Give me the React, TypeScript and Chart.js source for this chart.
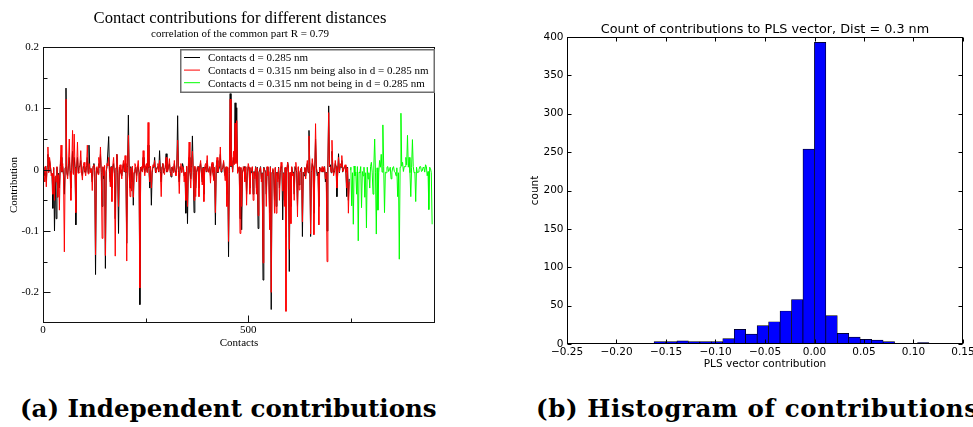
import React, { useEffect, useRef } from 'react';
import { Chart, registerables } from 'chart.js';

Chart.register(...registerables);

// ---------- Left panel: contact contributions ----------
const CONTACT_STEP = 2;
const SHARED_START = 0;
const GREEN_START = 748;
const CONTACT_MAX = 955;

const SERIES_LABELS = [
  'Contacts d = 0.285 nm',
  'Contacts d = 0.315 nm being also in d = 0.285 nm',
  'Contacts d = 0.315 nm not being in d = 0.285 nm',
];

const BLACK_285 = [
  0.0, 0.004, -0.01, -0.005, -0.02, 0.006, 0.025, -0.004, 0.015, 0.005, -0.005, -0.007, -0.063, 0.003, -0.1, -0.012, -0.08, 0.004, -0.045, -0.006,
  -0.03, 0.005, 0.02, -0.004, 0.005, -0.008, -0.04, 0.003, 0.133, -0.005, -0.01, 0.006, 0.02, -0.003, -0.03, 0.004, 0.03, -0.006, 0.02, 0.004,
  -0.09, 0.004, 0.02, -0.005, 0.005, 0.006, 0.015, -0.003, -0.01, 0.005, 0.005, -0.004, -0.005, 0.004, 0.02, -0.005, 0.04, 0.003, 0.0, -0.004,
  -0.02, 0.005, 0.01, -0.004, -0.171, 0.003, 0.0, -0.006, 0.01, 0.004, 0.025, -0.005, -0.06, 0.004, -0.015, 0.006, -0.161, -0.003, 0.005, 0.005,
  0.054, -0.004, -0.02, 0.005, -0.03, 0.004, 0.01, -0.006, -0.08, 0.003, 0.025, -0.005, -0.104, 0.004, 0.0, -0.005, -0.01, 0.003, 0.01, -0.004,
  0.01, -0.005, -0.12, 0.004, 0.089, -0.004, -0.03, 0.005, -0.02, 0.004, -0.058, -0.005, 0.0, 0.004, -0.01, 0.003, 0.005, -0.005, -0.22, 0.004,
  0.0, -0.003, 0.02, 0.004, -0.005, 0.005, 0.005, -0.004, 0.04, 0.003, -0.03, 0.005, -0.058, -0.004, 0.005, 0.004, 0.02, -0.005, 0.0, 0.004,
  0.005, -0.004, 0.031, -0.003, -0.02, 0.005, 0.01, -0.005, 0.0, 0.004, 0.026, -0.004, 0.0, 0.005, 0.01, -0.003, -0.012, 0.004, 0.0, -0.004,
  0.01, -0.003, -0.005, 0.004, 0.088, -0.004, -0.02, 0.005, 0.005, -0.004, 0.01, 0.004, -0.01, -0.005, -0.071, 0.005, -0.088, 0.003, 0.02, -0.004,
  -0.015, 0.004, 0.055, -0.005, -0.07, 0.004, -0.03, -0.004, 0.0, 0.005, -0.03, 0.004, 0.01, -0.005, -0.02, 0.004, -0.04, 0.003, 0.005, -0.004,
  0.015, -0.003, 0.0, 0.004, -0.01, 0.005, 0.01, -0.004, -0.015, 0.003, -0.09, 0.004, 0.015, -0.005, 0.0, 0.004, 0.025, -0.004, 0.0, 0.003,
  0.012, -0.005, -0.01, 0.004, -0.04, 0.003, -0.142, -0.006, 0.124, 0.005, 0.015, -0.004, 0.02, 0.01, 0.109, 0.012, 0.101, -0.005, 0.0, 0.004,
  -0.08, 0.003, -0.098, -0.004, 0.0, 0.005, -0.015, 0.004, -0.04, -0.005, 0.005, 0.003, -0.03, -0.004, -0.005, 0.004, -0.04, -0.003, -0.01, 0.005,
  -0.03, 0.004, -0.096, -0.004, 0.0, 0.005, -0.015, -0.005, -0.18, 0.004, 0.0, -0.003, -0.04, 0.004, -0.005, -0.004, -0.07, 0.005, -0.228, -0.004,
  0.0, -0.005, -0.05, 0.003, -0.06, -0.004, -0.015, 0.004, -0.03, -0.005, 0.005, 0.004, -0.082, -0.005, -0.05, 0.003, -0.11, -0.004, 0.012, 0.004,
  -0.166, -0.005, -0.06, 0.004, -0.005, -0.004, -0.04, 0.005, 0.005, -0.004, -0.06, 0.004, -0.025, -0.005, 0.0, 0.004, -0.109, -0.004, -0.01, 0.003,
  -0.01, 0.004, 0.01, -0.005, 0.064, 0.005, -0.109, -0.004, 0.01, 0.004, -0.071, -0.005, 0.05, 0.003, -0.01, -0.004, -0.06, 0.004, 0.0, -0.003,
  0.003, -0.004, 0.0, 0.005, -0.02, -0.004, -0.1, 0.004, 0.104, 0.005, 0.008, -0.005, 0.03, 0.004, -0.005, -0.004, 0.01, 0.005, -0.044, -0.004,
  0.026, -0.005, 0.005, 0.004, 0.015, -0.004, 0.0, 0.005, 0.005, -0.004, -0.044, 0.004, -0.05, -0.015,
];

const RED_315_SHARED = [
  0.005, -0.004, -0.02, 0.006, -0.028, 0.003, 0.037, -0.005, 0.02, 0.008, -0.01, -0.006, -0.04, 0.004, -0.05, -0.01, -0.02, 0.005, -0.045, -0.008,
  -0.066, 0.007, 0.04, -0.003, 0.01, -0.012, -0.134, 0.002, 0.115, -0.006, -0.015, 0.009, 0.05, -0.004, -0.05, 0.006, 0.064, -0.008, 0.058, 0.003,
  -0.07, 0.005, 0.045, -0.006, -0.005, 0.008, 0.031, -0.004, -0.017, 0.006, 0.012, -0.003, -0.01, 0.005, 0.04, -0.007, 0.01, 0.004, -0.005, 0.002,
  -0.034, 0.006, 0.008, -0.005, -0.139, 0.004, 0.005, -0.008, 0.02, 0.003, 0.037, -0.006, -0.112, 0.005, -0.01, 0.007, -0.14, -0.004, 0.01, 0.006,
  0.02, -0.005, -0.028, 0.004, -0.052, 0.006, 0.02, -0.007, -0.141, 0.003, 0.025, -0.004, -0.06, 0.005, 0.008, -0.006, -0.015, 0.004, 0.015, -0.003,
  0.023, -0.004, -0.149, 0.005, 0.056, -0.006, -0.044, 0.003, -0.035, 0.006, -0.045, -0.004, 0.01, 0.005, -0.02, 0.004, 0.015, -0.006, -0.193, 0.003,
  0.005, -0.004, 0.031, 0.003, -0.01, 0.006, 0.01, -0.005, 0.077, 0.004, -0.02, 0.006, -0.03, -0.003, 0.008, 0.005, 0.015, -0.004, -0.005, 0.003,
  0.01, -0.003, 0.015, -0.005, -0.044, 0.004, 0.01, -0.004, -0.008, 0.006, 0.02, -0.003, -0.003, 0.005, 0.018, -0.004, -0.01, 0.003, 0.005, -0.005,
  0.015, -0.004, -0.01, 0.005, 0.048, -0.003, -0.039, 0.004, 0.01, -0.005, 0.005, 0.003, -0.02, -0.004, -0.05, 0.006, -0.06, 0.004, 0.045, -0.005,
  -0.03, 0.005, 0.03, -0.004, -0.05, 0.006, -0.044, -0.003, 0.005, 0.004, -0.044, 0.005, 0.015, -0.004, -0.025, 0.003, -0.052, 0.005, 0.01, -0.003,
  0.023, -0.004, -0.003, 0.005, -0.022, 0.003, 0.012, -0.005, -0.018, 0.004, -0.07, 0.003, 0.02, -0.004, 0.005, 0.005, 0.037, -0.003, -0.003, 0.004,
  0.015, -0.004, -0.018, 0.005, -0.06, 0.004, -0.117, -0.005, 0.115, 0.006, 0.02, -0.004, 0.03, 0.008, 0.076, 0.01, 0.08, -0.006, 0.0, 0.005,
  -0.104, 0.004, -0.06, -0.005, 0.005, 0.003, -0.02, 0.005, -0.058, -0.004, 0.01, 0.004, -0.04, -0.003, 0.0, 0.005, -0.05, -0.004, -0.015, 0.004,
  -0.04, 0.003, -0.075, -0.005, -0.003, 0.004, -0.02, -0.006, -0.152, 0.003, -0.002, -0.004, -0.06, 0.005, -0.01, -0.003, -0.098, 0.004, -0.2, -0.005,
  0.002, -0.006, -0.071, 0.004, -0.071, -0.005, -0.02, 0.003, -0.05, -0.004, 0.012, 0.005, -0.035, -0.006, -0.06, 0.004, -0.231, -0.005, 0.012, 0.003,
  -0.13, -0.004, -0.088, 0.005, -0.01, -0.006, -0.05, 0.004, 0.012, -0.003, -0.077, 0.005, -0.033, -0.004, 0.002, 0.003, -0.085, -0.005, -0.005, 0.004,
  -0.015, 0.003, 0.015, -0.004, 0.055, 0.006, -0.105, -0.003, 0.018, 0.005, -0.106, -0.004, 0.075, 0.004, -0.005, -0.006, -0.09, 0.003, 0.002, -0.004,
  0.005, -0.003, -0.003, 0.004, -0.015, -0.005, -0.15, 0.003, 0.093, 0.006, 0.005, -0.004, 0.048, 0.005, -0.01, -0.003, 0.015, 0.004, -0.03, -0.005,
  0.02, -0.004, 0.01, 0.005, 0.023, -0.003, -0.002, 0.004, 0.008, -0.005, -0.03, 0.003, -0.071, -0.02,
];

const GREEN_315_ONLY = [
  0.0, 0.004, -0.059, -0.005, -0.089, 0.006, -0.01, -0.004, -0.04, 0.005, -0.116, -0.004, -0.005, 0.005, -0.062, -0.003, -0.01, 0.004, -0.045, -0.005,
  -0.095, 0.004, -0.015, -0.005, -0.03, 0.005, 0.012, -0.004, -0.04, 0.006, 0.05, -0.004, -0.105, 0.003, -0.066, -0.005, 0.015, 0.004, 0.025, -0.004,
  0.073, 0.005, -0.07, -0.004, -0.005, 0.004, 0.005, -0.003, 0.0, 0.004, -0.015, -0.004, 0.003, 0.005, -0.003, -0.004, -0.01, 0.003, -0.044, -0.005,
  -0.146, 0.004, 0.092, 0.006, 0.012, -0.003, 0.005, 0.005, 0.02, 0.008, 0.056, 0.004, 0.02, -0.005, -0.044, 0.004, 0.049, 0.005, -0.005, -0.004,
  -0.052, 0.004, -0.005, -0.004, 0.0, 0.005, 0.005, -0.003, -0.002, 0.004, 0.003, -0.004, 0.008, 0.005, -0.01, -0.003, -0.065, 0.004, 0.002, -0.005,
  -0.089,
];

const LEFT_Y_TICKS = [-0.2, -0.1, 0, 0.1, 0.2];
const LEFT_Y_TICK_LABELS = ['-0.2', '-0.1', '0', '0.1', '0.2'];
const LEFT_Y_MINOR = [-0.15, -0.05, 0.05, 0.15];
const LEFT_X_TICKS = [0, 500];
const LEFT_X_TICK_LABELS = ['0', '500'];
const LEFT_X_MINOR = [250, 750];

// ---------- Right panel: histogram ----------
const HIST_MIN = -0.2315;
const HIST_BIN_WIDTH = 0.01157;
const HIST_COUNTS = [
  1, 0, 0, 1, 0, 0, 3, 3, 4, 3,
  3, 3, 7, 19, 13, 24, 29, 43, 58, 254,
  393, 37, 14, 9, 6, 5, 3, 1, 0, 2,
];
const HIST_X_TICKS = [-0.25, -0.2, -0.15, -0.1, -0.05, 0, 0.05, 0.1, 0.15];
const HIST_X_TICK_LABELS = ['\u22120.25', '\u22120.20', '\u22120.15', '\u22120.10', '\u22120.05', '0.00', '0.05', '0.10', '0.15'];
const HIST_Y_TICKS = [0, 50, 100, 150, 200, 250, 300, 350, 400];
const HIST_Y_TICK_LABELS = ['0', '50', '100', '150', '200', '250', '300', '350', '400'];

const SERIF = '"Liberation Serif", "Times New Roman", serif';
const SANS = '"DejaVu Sans", sans-serif';

function labelFor(values: number[], labels: string[], v: number): string {
  let best = 0;
  let d = Infinity;
  values.forEach((t, i) => {
    const dd = Math.abs(t - v);
    if (dd < d) { d = dd; best = i; }
  });
  return labels[best];
}

function framePlugin(opts: any) {
  return {
    id: opts.id,
    afterDatasetsDraw(chart: any) {
      const { ctx, chartArea: a } = chart;
      const xs = chart.scales.x;
      const ys = chart.scales.y;
      ctx.save();
      ctx.strokeStyle = opts.color;
      ctx.lineWidth = 1;
      const l = Math.round(a.left) + 0.5;
      const r = Math.round(a.right) - 0.5;
      const t = Math.round(a.top) + 0.5;
      const b = Math.round(a.bottom) - 0.5;
      ctx.strokeRect(l, t, r - l, b - t);
      ctx.beginPath();
      const xGroups: [number[], number][] = [[opts.xMajor, opts.majorLen], [opts.xMinor, opts.minorLen]];
      xGroups.forEach(([vals, len]) => {
        vals.forEach((v) => {
          const px = Math.round(xs.getPixelForValue(v)) + 0.5;
          ctx.moveTo(px, b); ctx.lineTo(px, b - len);
          if (opts.mirror) { ctx.moveTo(px, t); ctx.lineTo(px, t + len); }
        });
      });
      const yGroups: [number[], number][] = [[opts.yMajor, opts.majorLen], [opts.yMinor, opts.minorLen]];
      yGroups.forEach(([vals, len]) => {
        vals.forEach((v) => {
          const py = Math.round(ys.getPixelForValue(v)) + 0.5;
          ctx.moveTo(l, py); ctx.lineTo(l + len, py);
          if (opts.mirror) { ctx.moveTo(r, py); ctx.lineTo(r - len, py); }
        });
      });
      ctx.stroke();
      ctx.restore();
    },
  };
}

function textPlugin(id: string, items: { text: string; y: number; font: string; dx?: number }[]) {
  return {
    id,
    afterDraw(chart: any) {
      const { ctx, chartArea: a } = chart;
      ctx.save();
      ctx.fillStyle = '#000';
      ctx.textAlign = 'center';
      ctx.textBaseline = 'alphabetic';
      items.forEach((it) => {
        ctx.font = it.font;
        ctx.fillText(it.text, (a.left + a.right) / 2 + (it.dx || 0), it.y);
      });
      ctx.restore();
    },
  };
}

const boxLegendPlugin = {
  id: 'boxLegend',
  afterDraw(chart: any) {
    const { ctx, chartArea: a } = chart;
    const w = 255;
    const h = 44;
    const right = a.right;
    const left = right - w;
    const top = a.top + 2;
    ctx.save();
    ctx.fillStyle = '#fff';
    ctx.fillRect(left, top, w, h);
    ctx.strokeStyle = '#6e6e6e';
    ctx.lineWidth = 1.5;
    ctx.strokeRect(left + 0.75, top + 0.75, w - 1.5, h - 1.5);
    ctx.font = '11px ' + SERIF;
    ctx.textAlign = 'left';
    ctx.textBaseline = 'alphabetic';
    chart.data.datasets.forEach((ds: any, i: number) => {
      const cy = top + 8.5 + i * 12.6;
      ctx.strokeStyle = ds.borderColor;
      ctx.lineWidth = 1;
      ctx.beginPath();
      ctx.moveTo(left + 4, cy);
      ctx.lineTo(left + 20, cy);
      ctx.stroke();
      ctx.fillStyle = '#000';
      ctx.fillText(ds.label, left + 28, cy + 3.8);
    });
    ctx.restore();
  },
};

export default function App() {
  const leftRef = useRef<HTMLCanvasElement>(null);
  const rightRef = useRef<HTMLCanvasElement>(null);

  useEffect(() => {
    const black = BLACK_285.map((y, k) => ({ x: SHARED_START + k * CONTACT_STEP, y }));
    const red = RED_315_SHARED.map((y, k) => ({ x: SHARED_START + k * CONTACT_STEP, y }));
    const green = GREEN_315_ONLY.map((y, k) => ({ x: GREEN_START + k * CONTACT_STEP, y }));

    const left = new Chart(leftRef.current as HTMLCanvasElement, {
      type: 'line',
      data: {
        datasets: [
          { label: SERIES_LABELS[0], data: black, borderColor: '#000000', borderWidth: 1, pointRadius: 0, tension: 0, order: 1 },
          { label: SERIES_LABELS[1], data: red, borderColor: '#ff0000', borderWidth: 1, pointRadius: 0, tension: 0, order: 0 },
          { label: SERIES_LABELS[2], data: green, borderColor: '#00ff00', borderWidth: 1, pointRadius: 0, tension: 0, order: 2 },
        ],
      } as any,
      options: {
        responsive: false,
        animation: false,
        events: [],
        layout: { padding: { top: 47, right: 15, bottom: 0, left: 0 } },
        plugins: { legend: { display: false }, tooltip: { enabled: false } },
        scales: {
          x: {
            type: 'linear',
            min: 0,
            max: CONTACT_MAX,
            grid: { display: false, drawTicks: false },
            border: { display: false },
            afterBuildTicks: (s: any) => { s.ticks = LEFT_X_TICKS.map((v) => ({ value: v })); },
            afterFit: (s: any) => { s.height = 31; s.paddingLeft = 0; s.paddingRight = 0; },
            ticks: {
              padding: 1,
              maxRotation: 0,
              autoSkip: false,
              color: '#000',
              font: { family: SERIF, size: 11 },
              callback: (v: any) => labelFor(LEFT_X_TICKS, LEFT_X_TICK_LABELS, Number(v)),
            },
            title: { display: true, text: 'Contacts', color: '#000', font: { family: SERIF, size: 11 }, padding: { top: 0, bottom: 4 } },
          },
          y: {
            type: 'linear',
            min: -0.25,
            max: 0.2,
            grid: { display: false, drawTicks: false },
            border: { display: false },
            afterBuildTicks: (s: any) => { s.ticks = LEFT_Y_TICKS.map((v) => ({ value: v })); },
            afterFit: (s: any) => { s.width = 43; s.paddingTop = 0; s.paddingBottom = 0; },
            ticks: {
              padding: 4,
              autoSkip: false,
              color: '#000',
              font: { family: SERIF, size: 11 },
              callback: (v: any) => labelFor(LEFT_Y_TICKS, LEFT_Y_TICK_LABELS, Number(v)),
            },
            title: { display: true, text: 'Contribution', color: '#000', font: { family: SERIF, size: 11 }, padding: { top: 8, bottom: 0 } },
          },
        },
      } as any,
      plugins: [
        framePlugin({ id: 'leftFrame', color: '#111', xMajor: LEFT_X_TICKS, xMinor: LEFT_X_MINOR, yMajor: LEFT_Y_TICKS, yMinor: LEFT_Y_MINOR, majorLen: 7, minorLen: 4, mirror: false }),
        textPlugin('leftTitles', [
          { text: 'Contact contributions for different distances', y: 23, font: '16.6px ' + SERIF, dx: 1 },
          { text: 'correlation of the common part R = 0.79', y: 36.5, font: '11px ' + SERIF, dx: 1 },
        ]),
        boxLegendPlugin,
      ] as any,
    });

    const bars = HIST_COUNTS.map((c, j) => ({ x: HIST_MIN + (j + 0.5) * HIST_BIN_WIDTH, y: c }));

    const right = new Chart(rightRef.current as HTMLCanvasElement, {
      type: 'bar',
      data: {
        datasets: [
          {
            label: 'count',
            data: bars,
            backgroundColor: '#0000ff',
            borderColor: '#000000',
            borderWidth: 0.7,
            borderSkipped: false,
            barPercentage: 1,
            categoryPercentage: 1,
          },
        ],
      } as any,
      options: {
        responsive: false,
        animation: false,
        events: [],
        layout: { padding: { top: 37, right: 10, bottom: 0, left: 0 } },
        plugins: { legend: { display: false }, tooltip: { enabled: false } },
        scales: {
          x: {
            type: 'linear',
            min: -0.25,
            max: 0.15,
            offset: false,
            grid: { display: false, drawTicks: false },
            border: { display: false },
            afterBuildTicks: (s: any) => { s.ticks = HIST_X_TICKS.map((v) => ({ value: v })); },
            afterFit: (s: any) => { s.height = 31; s.paddingLeft = 0; s.paddingRight = 0; },
            ticks: {
              padding: 2,
              maxRotation: 0,
              autoSkip: false,
              color: '#000',
              font: { family: SANS, size: 10.5 },
              callback: (v: any) => labelFor(HIST_X_TICKS, HIST_X_TICK_LABELS, Number(v)),
            },
            title: { display: true, text: 'PLS vector contribution', color: '#000', font: { family: SANS, size: 10.5 }, padding: { top: 0, bottom: 4 } },
          },
          y: {
            type: 'linear',
            min: 0,
            max: 400,
            grid: { display: false, drawTicks: false },
            border: { display: false },
            afterBuildTicks: (s: any) => { s.ticks = HIST_Y_TICKS.map((v) => ({ value: v })); },
            afterFit: (s: any) => { s.width = 47; s.paddingTop = 0; s.paddingBottom = 0; },
            ticks: {
              padding: 3.5,
              autoSkip: false,
              color: '#000',
              font: { family: SANS, size: 10.5 },
              callback: (v: any) => labelFor(HIST_Y_TICKS, HIST_Y_TICK_LABELS, Number(v)),
            },
            title: { display: true, text: 'count', color: '#000', font: { family: SANS, size: 10.5 }, padding: { top: 9, bottom: 0 } },
          },
        },
      } as any,
      plugins: [
        framePlugin({ id: 'rightFrame', color: '#000', xMajor: HIST_X_TICKS, xMinor: [], yMajor: HIST_Y_TICKS, yMinor: [], majorLen: 4, minorLen: 2, mirror: true }),
        textPlugin('rightTitle', [
          { text: 'Count of contributions to PLS vector, Dist = 0.3 nm', y: 32.7, font: '12.8px ' + SANS },
        ]),
      ] as any,
    });

    return () => {
      left.destroy();
      right.destroy();
    };
  }, []);

  const caption = (x: number, spacing: number): React.CSSProperties => ({
    position: 'absolute',
    left: x,
    top: 397,
    font: 'bold 24.5px "DejaVu Serif", serif',
    lineHeight: '24.5px',
    letterSpacing: spacing + 'px',
    whiteSpace: 'nowrap',
    color: '#000',
  });

  return (
    <div style={{ position: 'absolute', left: 0, top: 0, width: 973, height: 427, overflow: 'hidden', background: '#fff' }}>
      <canvas ref={leftRef} width={450} height={354} style={{ position: 'absolute', left: 0, top: 0 }} />
      <canvas ref={rightRef} width={453} height={375} style={{ position: 'absolute', left: 520, top: 0 }} />
      <div style={caption(20, 0)}>(a) Independent contributions</div>
      <div style={caption(536, 0.6)}>(b) Histogram of contributions</div>
    </div>
  );
}
